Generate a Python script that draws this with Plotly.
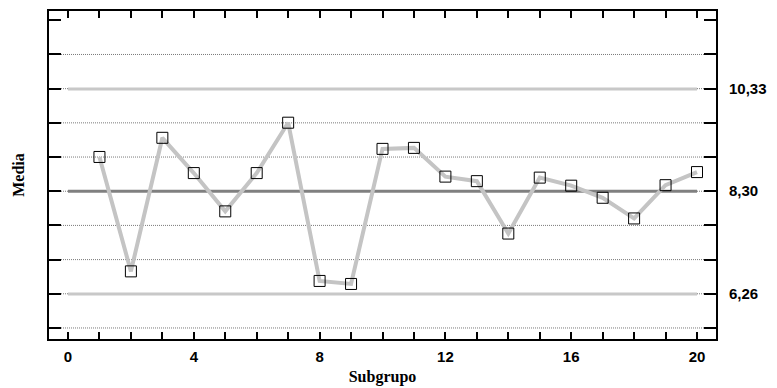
import plotly.graph_objects as go

# Subgroup means for the X-bar control chart
subgroups = list(range(1, 21))
means = [8.98, 6.71, 9.36, 8.66, 7.90, 8.66, 9.66, 6.52, 6.46, 9.14,
         9.16, 8.59, 8.50, 7.46, 8.57, 8.41, 8.17, 7.76, 8.42, 8.68]

# Control limits
ucl = 10.33
center = 8.30
lcl = 6.26
limit_span = [0, 20]

x_ticks = [0, 4, 8, 12, 16, 20]

sigma = (ucl - lcl) / 6.0
grid_levels = [center + k * sigma for k in range(-4, 5)]
tick_levels = [center + k * sigma for k in range(-4, 6)]

y_range = [5.368, 11.876]
x_range = [-0.604, 20.604]

fig = go.Figure()

# Upper / lower control limits and center line
fig.add_trace(go.Scatter(x=limit_span, y=[ucl, ucl], mode="lines",
                         line=dict(color="#c8c8c8", width=3), hoverinfo="skip"))
fig.add_trace(go.Scatter(x=limit_span, y=[lcl, lcl], mode="lines",
                         line=dict(color="#c8c8c8", width=3), hoverinfo="skip"))
fig.add_trace(go.Scatter(x=limit_span, y=[center, center], mode="lines",
                         line=dict(color="#808080", width=3), hoverinfo="skip"))

# Subgroup means
fig.add_trace(go.Scatter(x=subgroups, y=means, mode="lines",
                         line=dict(color="#c4c4c4", width=4)))
fig.add_trace(go.Scatter(x=subgroups, y=means, mode="markers",
                         marker=dict(symbol="square-open", size=11,
                                     color="black", line=dict(width=1, color="black"))))

# Dotted reference lines at each sigma level
for lv in grid_levels:
    fig.add_shape(type="line", xref="paper", x0=0, x1=1, yref="y", y0=lv, y1=lv,
                  line=dict(color="#7a7a7a", width=1, dash="1px,1px"), layer="below")

tick_font = dict(family="Liberation Sans", size=15, color="black", weight="bold")
title_font = dict(family="Liberation Serif", size=16, color="black", weight="bold")

fig.update_layout(
    width=777, height=388,
    margin=dict(l=49, r=61, t=11, b=49),
    plot_bgcolor="white", paper_bgcolor="white",
    showlegend=False,
    separators=",.",
    xaxis=dict(
        range=x_range, tickvals=x_ticks, ticks="inside", ticklen=7, tickwidth=2,
        tickcolor="black", showline=True, linewidth=2, linecolor="black",
        mirror="allticks", showgrid=False, zeroline=False, tickfont=tick_font,
        ticklabelstandoff=3, automargin=False,
        minor=dict(ticks="inside", dtick=1, ticklen=4, tickwidth=1.5, tickcolor="black",
                   showgrid=False),
        title=dict(text="Subgrupo", font=title_font, standoff=7),
    ),
    yaxis=dict(
        range=y_range, tickvals=tick_levels, ticks="inside", ticklen=12, tickwidth=2,
        tickcolor="black", showticklabels=False, showline=True, linewidth=2,
        linecolor="black", mirror="allticks", showgrid=False, zeroline=False,
        automargin=False,
        title=dict(text="Media", font=title_font, standoff=18),
    ),
    yaxis2=dict(
        range=y_range, overlaying="y", side="right", tickvals=[lcl, center, ucl],
        tickformat=".2f", ticks="", showgrid=False, showline=False, zeroline=False,
        tickfont=tick_font, ticklabelstandoff=12, automargin=False,
    ),
)

# invisible trace to activate the right-hand axis
fig.add_trace(go.Scatter(x=limit_span, y=[center, center], yaxis="y2", mode="lines",
                         line=dict(width=0), hoverinfo="skip", opacity=0))

fig.write_html("out.html")
